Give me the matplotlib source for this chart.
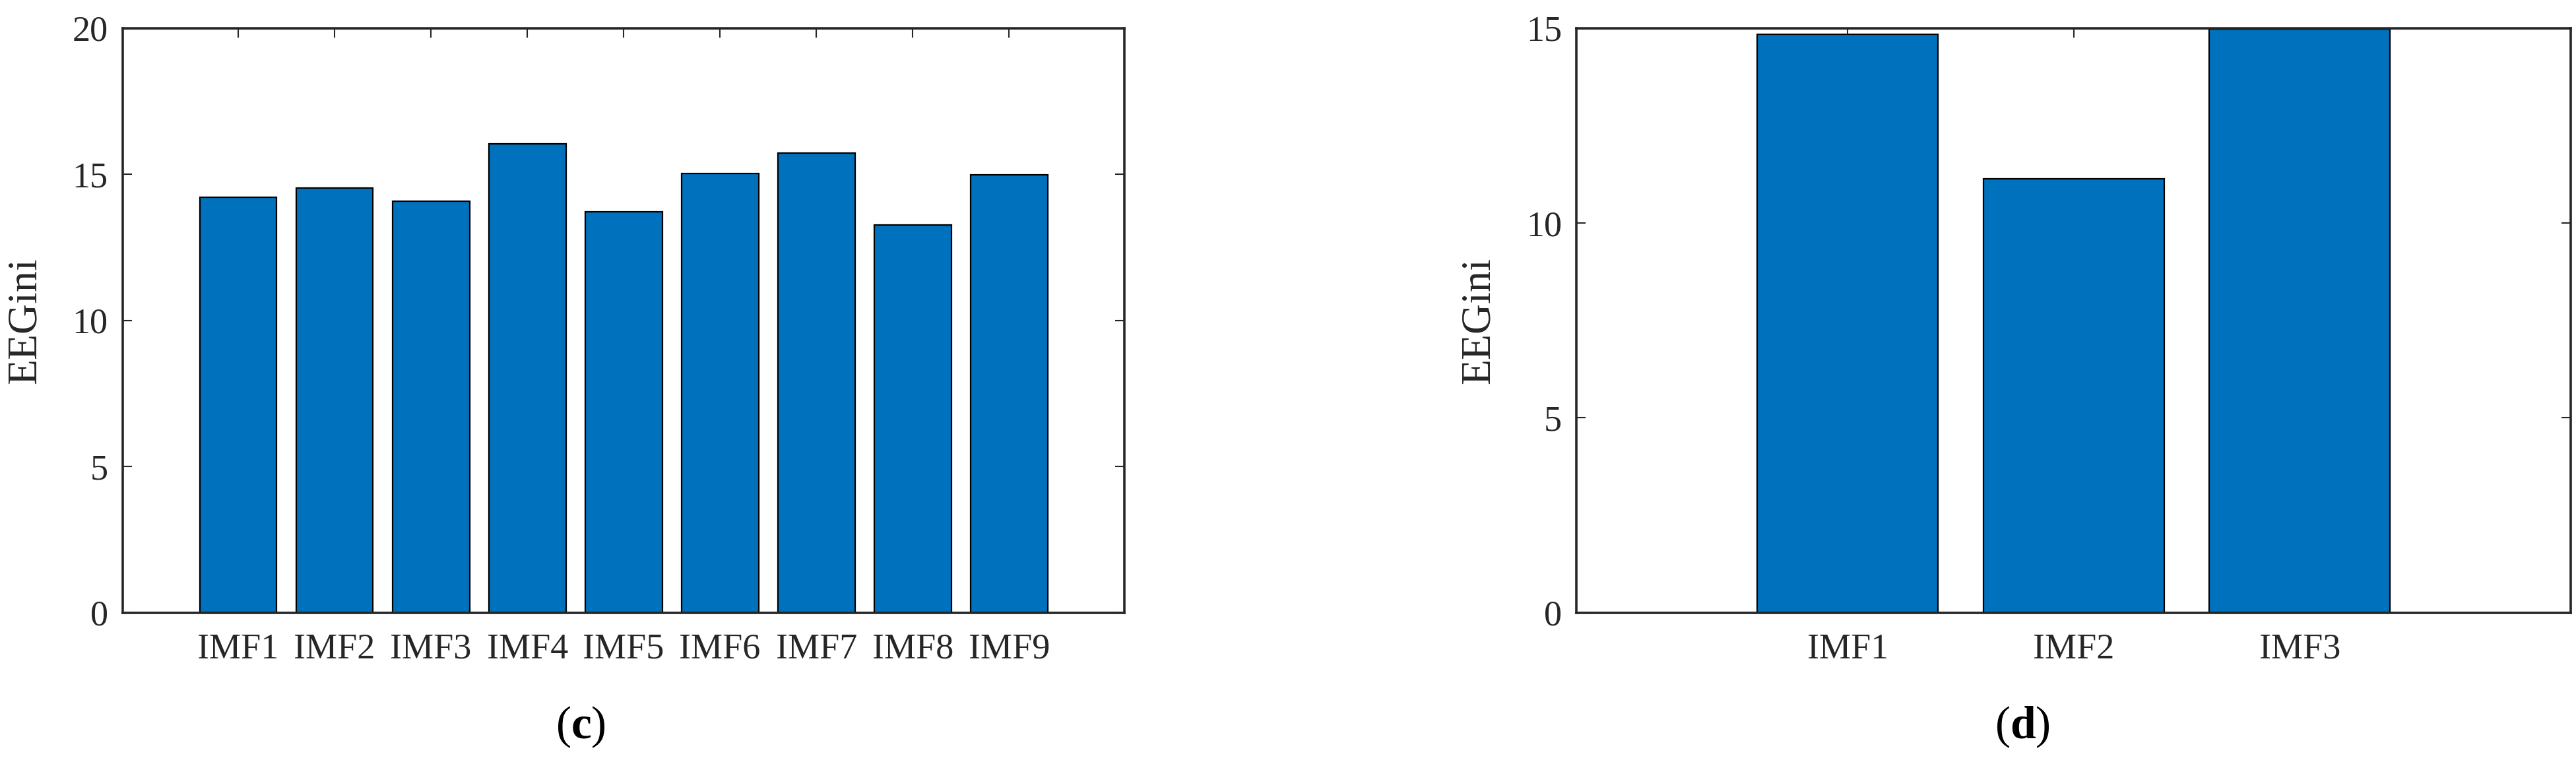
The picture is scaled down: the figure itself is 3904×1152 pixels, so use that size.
import numpy as np
import matplotlib
matplotlib.use("Agg")
import matplotlib.pyplot as plt

# panel (c): EEGini for 9 IMFs
imf_c = ["IMF1", "IMF2", "IMF3", "IMF4", "IMF5", "IMF6", "IMF7", "IMF8", "IMF9"]
eegini_c = [14.21, 14.52, 14.07, 16.04, 13.72, 15.02, 15.73, 13.27, 14.97]

# panel (d): EEGini for 3 IMFs
imf_d = ["IMF1", "IMF2", "IMF3"]
eegini_d = [14.84, 11.13, 14.98]

bar_color = "#0072BD"
txt_color = "#262626"

plt.rcParams['font.family'] = ['Liberation Serif', 'DejaVu Serif']
plt.rcParams['mathtext.fontset'] = 'custom'
plt.rcParams['mathtext.rm'] = 'Liberation Serif'
plt.rcParams['mathtext.bf'] = 'Liberation Serif:bold'

fig = plt.figure(figsize=(39.04, 11.52), dpi=100)
ax1 = fig.add_axes([0.0476, 0.194, 0.389, 0.769])
ax2 = fig.add_axes([0.612, 0.194, 0.386, 0.769])


def draw_panel(ax, names, vals, ymax, yticks, label_x):
    x = np.arange(1, len(names) + 1)
    ax.bar(x, vals, width=0.8, color=bar_color, edgecolor="black", linewidth=1.6, zorder=2)
    ax.set_xticks(x)
    ax.set_xticklabels(names)
    ax.set_xlim(-0.2, len(names) + 1.2)
    ax.set_ylim(0, ymax)
    ax.set_yticks(yticks)
    ax.tick_params(direction="in", top=True, right=True, length=10, width=1.5,
                   labelsize=39, colors=txt_color, pad=16)
    ax.tick_params(axis="x", pad=22)
    for s in ax.spines.values():
        s.set_linewidth(2.6)
        s.set_color(txt_color)
        s.set_zorder(3)
    ax.set_ylabel("EEGini", fontsize=46, color=txt_color)
    ax.yaxis.set_label_coords(label_x, 0.5)


draw_panel(ax1, imf_c, eegini_c, 20, [0, 5, 10, 15, 20], -0.0776)
draw_panel(ax2, imf_d, eegini_d, 15, [0, 5, 10, 15], -0.079)

fig.text(0.2254, 0.043, r"($\mathbf{c}$)", fontsize=50, ha="center", va="center", color="black")
fig.text(0.785, 0.043, r"($\mathbf{d}$)", fontsize=50, ha="center", va="center", color="black")

fig.savefig("out.png", dpi=100)
